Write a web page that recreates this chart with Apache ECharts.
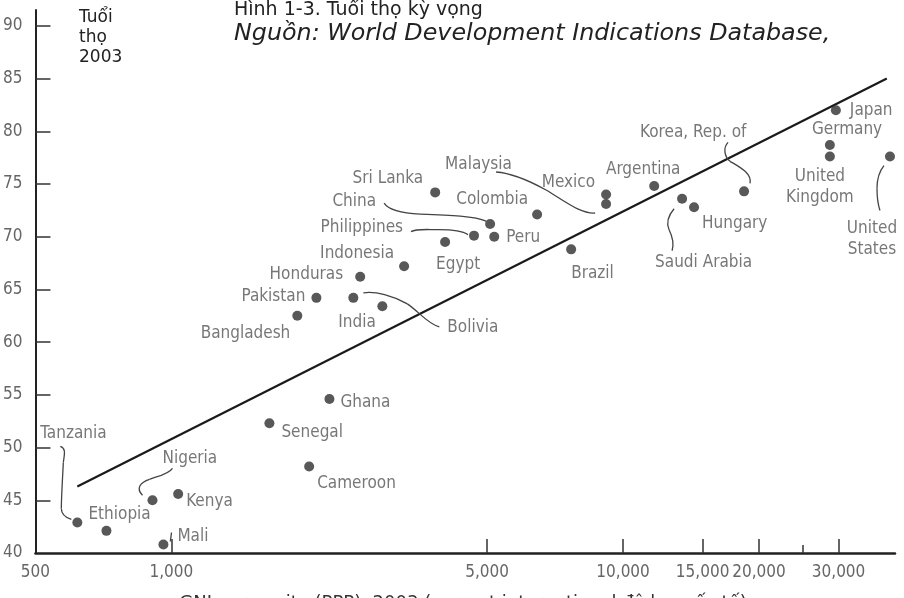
<!DOCTYPE html>
<html><head><meta charset="utf-8">
<script src="https://cdn.jsdelivr.net/npm/echarts@6/dist/echarts.min.js"></script>
<style>html,body{margin:0;padding:0;background:#fff}#c{width:904px;height:598px}</style>
</head><body><div id="c"></div>
<script>
// ---- data ----
const countries = ['Tanzania','Ethiopia','Nigeria','Kenya','Mali','Senegal','Ghana','Cameroon',
  'Bangladesh','Pakistan','Bolivia','India','Honduras','Indonesia','Egypt','Philippines','China','Peru',
  'Sri Lanka','Colombia','Mexico','Malaysia','Argentina','Brazil','Saudi Arabia','Hungary',
  'Korea, Rep. of','Japan','Germany','United\nKingdom','United\nStates'];
const gniPerCapita = [619,718,908,1035,960,1648,2238,2018,
  1900,2094,2528,2931,2618,3275,4036,4677,5077,5185,
  3837,6452,9170,9170,11720,7674,13510,14360,
  18530,29590,28700,28700,38990];
const lifeExpectancy = [42.9,42.1,45.0,45.6,40.8,52.3,54.6,48.2,
  62.5,64.2,64.2,63.4,66.2,67.2,69.5,70.1,71.2,70.0,
  74.2,72.1,74.0,73.1,74.8,68.8,73.6,72.8,
  74.3,82.0,78.7,77.6,77.6];
const trendGni = [619, 38370];
const trendLife = [46.3, 85.0];
const xTickLabels = [500, 1000, 5000, 10000, 15000, 20000, 30000];
const xTickMarks = [1000, 5000, 10000, 15000, 20000, 30000];
const xShortTickMarks = [25000];
const yTickLabels = [40, 45, 50, 55, 60, 65, 70, 75, 80, 85, 90];

// ---- label placement (pixel offsets from the dot) ----
const labelPlace = {
  'Tanzania':[-37,-89,'left'], 'Ethiopia':[-18,-16,'left'], 'Nigeria':[10,-42,'left'],
  'Kenya':[8,8,'left'], 'Mali':[14,-8,'left'], 'Senegal':[12,9,'left'], 'Ghana':[11,4,'left'],
  'Cameroon':[8,17,'left'], 'Bangladesh':[-7,18,'right'], 'Pakistan':[-11,-1,'right'],
  'Bolivia':[94,30,'left'], 'India':[-44,16,'left'], 'Honduras':[-17,-2,'right'],
  'Indonesia':[-84,-13,'left'], 'Egypt':[-9,23,'left'], 'Philippines':[-71,-8,'right'],
  'China':[-114,-22,'right'], 'Peru':[12,1,'left'], 'Sri Lanka':[-12,-14,'right'],
  'Colombia':[-9,-15,'right'], 'Mexico':[-11,-12,'right'], 'Malaysia':[-161,-39,'left'],
  'Argentina':[-11,-17,'center'], 'Brazil':[0,24,'left'], 'Saudi Arabia':[-27,64,'left'],
  'Hungary':[8,16,'left'], 'Korea, Rep. of':[-104,-59,'left'], 'Japan':[14,0,'left'],
  'Germany':[-18,-15,'left'], 'United\nKingdom':[-10,31,'center'], 'United\nStates':[-18,83,'center']
};
// leader curves: cubic bezier segments relative to the dot [x1,y1,c1x,c1y,c2x,c2y,x2,y2]
const leaders = {
  'Tanzania':[[-17,-76,-11,-74,-13,-68,-14,-60],[-14,-60,-15,-40,-16,-25,-16,-14],[-16,-14,-16,-8,-12,-5,-6,-3]],
  'Nigeria':[[20,-32,16,-26,5,-24,-3,-21],[-3,-21,-12,-18,-17,-12,-10,-5]],
  'Mali':[[7,-3,7,-6,8,-9,8,-12]],
  'China':[[-106,-21,-102,-15,-90,-11,-70,-10],[-70,-10,-40,-9,-15,-8,-4,-3]],
  'Philippines':[[-63,-4,-58,-7,-50,-6,-35,-6],[-35,-6,-20,-6,-12,-5,-6,-1]],
  'Malaysia':[[-110,-32,-95,-31,-80,-25,-60,-14],[-60,-14,-40,-2,-25,10,-11,9]],
  'Bolivia':[[10,-5,22,-7,40,-2,54,6],[54,6,66,14,74,26,86,29]],
  'Korea, Rep. of':[[-16,-49,-21,-44,-20,-35,-14,-30],[-14,-30,-4,-24,8,-18,6,-8]],
  'Saudi Arabia':[[-8,10,-14,17,-16,24,-13,31],[-13,31,-9,39,-8,45,-10,52]],
  'United\nStates':[[-6,9,-11,15,-13,22,-13,32],[-13,32,-13,42,-12,48,-10,54]]
};

const narrow = "'DejaVu Sans Condensed','Liberation Sans Narrow',sans-serif";
const greyText = '#555';

const scatterData = countries.map((n, i) => {
  const p = labelPlace[n];
  return {
    name: n,
    value: [gniPerCapita[i], lifeExpectancy[i]],
    label: { show: true, position: 'inside', align: p[2], verticalAlign: 'middle', offset: [p[0], p[1]], formatter: n }
  };
});
const leaderData = countries.map((n, i) => ({ name: n, value: [gniPerCapita[i], lifeExpectancy[i]] }))
  .filter(d => leaders[d.name]);

const chart = echarts.init(document.getElementById('c'), null, { renderer: 'canvas' });
const fmt = v => String(Math.round(v)).replace(/\B(?=(\d{3})+(?!\d))/g, ',');

chart.setOption({
  animation: false,
  backgroundColor: '#fff',
  grid: { left: 35, right: 9, top: 10, bottom: 45 },
  xAxis: [{
    type: 'log', logBase: 10, min: 500, max: 40000,
    axisLine: { show: true, onZero: false, lineStyle: { color: '#222', width: 2.5 } },
    axisTick: { show: true, inside: true, length: 14, customValues: xTickMarks, lineStyle: { color: '#333', width: 1.5 } },
    axisLabel: { show: true, customValues: xTickLabels, formatter: fmt, margin: 11, color: '#666', fontSize: 17, fontFamily: narrow },
    splitLine: { show: false }, minorTick: { show: false }
  }, {
    type: 'log', logBase: 10, min: 500, max: 40000, position: 'bottom',
    axisLine: { show: false },
    axisTick: { show: true, inside: true, length: 8, customValues: xShortTickMarks, lineStyle: { color: '#333', width: 1.5 } },
    axisLabel: { show: false }, splitLine: { show: false }
  }],
  yAxis: {
    type: 'value', min: 40, max: 91.5,
    axisLine: { show: true, onZero: false, lineStyle: { color: '#222', width: 2 } },
    axisTick: { show: true, inside: true, length: 15, customValues: yTickLabels.slice(1), lineStyle: { color: '#333', width: 1.5 } },
    axisLabel: { show: true, customValues: yTickLabels, margin: 13, color: '#666', fontSize: 17, fontFamily: narrow },
    splitLine: { show: false }
  },
  graphic: [
    { type: 'text', left: 234, top: 1, style: { text: 'Hình 1-3. Tuổi thọ kỳ vọng', fontSize: 19, fontFamily: 'DejaVu Sans', fill: '#222' } },
    { type: 'text', left: 234, top: 22, style: { text: 'Nguồn: World Development Indications Database,', fontSize: 23.8, fontStyle: 'italic', fontFamily: 'DejaVu Sans', fill: '#222' } },
    { type: 'text', left: 79, top: 8, style: { text: 'Tuổi\nthọ\n2003', fontSize: 17, lineHeight: 20, fontFamily: 'DejaVu Sans', fill: '#222' } },
    { type: 'text', x: 463, y: 603, style: { text: 'GNI per capita (PPP), 2003 (current international đô la quốc tế)', fontSize: 18, fontFamily: 'DejaVu Sans', fill: '#333', align: 'center', verticalAlign: 'middle' } }
  ],
  series: [
    {
      type: 'line', data: trendGni.map((g, i) => [g, trendLife[i]]),
      symbol: 'none', lineStyle: { color: '#1a1a1a', width: 2.2 }, silent: true, z: 2
    },
    {
      type: 'custom', data: leaderData, silent: true, z: 3,
      renderItem: (params, api) => {
        const p = api.coord([api.value(0), api.value(1)]);
        const segs = leaders[leaderData[params.dataIndex].name];
        return { type: 'group', children: segs.map(s => ({
          type: 'bezierCurve',
          shape: { x1: p[0]+s[0], y1: p[1]+s[1], cpx1: p[0]+s[2], cpy1: p[1]+s[3], cpx2: p[0]+s[4], cpy2: p[1]+s[5], x2: p[0]+s[6], y2: p[1]+s[7] },
          style: { stroke: '#444', fill: null, lineWidth: 1.3 }
        })) };
      }
    },
    {
      type: 'scatter', data: scatterData, symbol: 'circle', symbolSize: 10, z: 4,
      itemStyle: { color: '#2e2e2e' },
      label: { color: greyText, fontSize: 17, fontFamily: narrow, lineHeight: 21 },
      emphasis: { disabled: true }, silent: true
    }
  ]
});
</script>
</body></html>
